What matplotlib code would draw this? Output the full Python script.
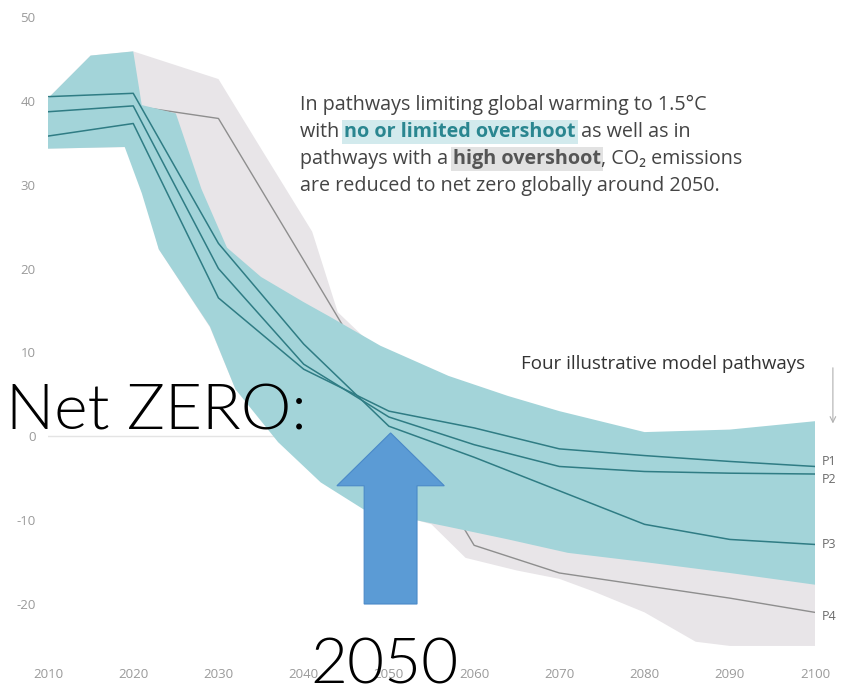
import matplotlib
matplotlib.use("Agg")
import matplotlib.pyplot as plt
from matplotlib.patches import FancyArrow

plt.rcParams['axes.unicode_minus'] = False
plt.rcParams['font.family'] = ['Open Sans', 'DejaVu Sans']

# pathway lines (GtCO2/yr)
years = [2010, 2020, 2030, 2040, 2050, 2060, 2070, 2080, 2090, 2100]
p1 = [35.8, 37.3, 16.5, 8.0, 3.0, 1.0, -1.5, -2.3, -3.0, -3.6]
p2 = [38.7, 39.4, 20.0, 8.6, 2.3, -1.0, -3.6, -4.2, -4.4, -4.5]
p3 = [40.5, 40.9, 23.0, 11.0, 1.2, -2.5, -6.5, -10.5, -12.3, -12.9]
p4 = [38.7, 39.4, 37.9, 21.0, 4.0, -13.0, -16.3, -17.8, -19.3, -21.0]

# no or limited overshoot range
low_up_years = [2010, 2015, 2020, 2021, 2025, 2028, 2031, 2035, 2040, 2043, 2049,
                2057, 2064, 2070, 2080, 2090, 2100]
low_up = [40.3, 45.4, 45.9, 39.5, 38.5, 29.5, 22.5, 19.0, 16.0, 14.3, 10.8,
          7.2, 4.8, 3.0, 0.5, 0.8, 1.8]
low_dn_years = [2010, 2019, 2021, 2023, 2029, 2032, 2037, 2042, 2047, 2057,
                2064, 2071, 2080, 2090, 2100]
low_dn = [34.3, 34.5, 29.0, 22.3, 13.1, 5.6, -0.7, -5.5, -8.7, -10.8,
          -12.3, -13.9, -15.0, -16.3, -17.7]

# high overshoot range
high_up_years = [2010, 2015, 2020, 2030, 2035, 2041, 2044, 2050, 2060, 2070,
                 2080, 2090, 2100]
high_up = [40.3, 45.4, 45.9, 42.6, 34.3, 24.4, 14.8, 9.0, 4.0, 1.0,
           -1.0, -2.0, -3.0]
high_dn_years = [2010, 2020, 2023, 2029, 2032, 2037, 2042, 2048, 2055, 2059,
                 2065, 2070, 2074, 2080, 2086, 2090, 2100]
high_dn = [34.3, 34.5, 22.3, 13.0, 5.6, 0.0, -5.0, -8.5, -10.5, -14.5,
           -16.0, -17.0, -18.5, -21.0, -24.5, -25.0, -25.0]

xticks = list(range(2010, 2101, 10))
yticks = list(range(-20, 51, 10))

W, H = 842, 688
fig = plt.figure(figsize=(W / 100, H / 100), dpi=100)
fig.patch.set_facecolor('white')
ax = fig.add_axes([48 / W, (H - 662.7) / H, (815 - 48) / W, (662.7 - 17) / H])
ax.set_xlim(2010, 2100)
ax.set_ylim(-27, 50)
for s in ax.spines.values():
    s.set_visible(False)

ax.axhline(0, color='#e4e4e4', lw=1, zorder=0)

# grey band (high overshoot)
ax.fill(high_up_years + high_dn_years[::-1], high_up + high_dn[::-1],
        color='#e8e5e8', lw=0, zorder=1)
ax.plot(years, p4, color='#8e8e8e', lw=1.0, zorder=2)

# teal band (no or limited overshoot)
ax.fill(low_up_years + low_dn_years[::-1], low_up + low_dn[::-1],
        color='#a3d4d9', lw=0, zorder=3)

for p in (p1, p2, p3):
    ax.plot(years, p, color='#2f7c84', lw=1.1, zorder=4)

ax.set_xticks(xticks)
ax.set_yticks(yticks)
ax.tick_params(length=0, labelsize=9.5, labelcolor='#9a9a9a')
ax.tick_params(axis='y', pad=9)
ax.tick_params(axis='x', pad=4)

# pathway labels
for name, val in zip(['P1', 'P2', 'P3', 'P4'], [-3.0, -5.2, -12.9, -21.5]):
    ax.text(2100.8, val, name, fontsize=9, color='#6a6a6a', va='center',
            ha='left', clip_on=False)

ax.text(2098.8, 8.6, 'Four illustrative model pathways', fontsize=13.5,
        color='#333333', ha='right', va='center')
ax.annotate('', xy=(2102.1, 1.2), xytext=(2102.1, 8.5),
            arrowprops=dict(arrowstyle='->', color='#b0b0b0', lw=0.8),
            annotation_clip=False)

# annotation paragraph with highlights
fig.canvas.draw()
renderer = fig.canvas.get_renderer()
fs = 14.2
plain = dict(fontsize=fs, color='#444444')
lines = [
    [('In pathways limiting global warming to 1.5°C', plain, None)],
    [('with ', plain, None),
     ('no or limited overshoot', dict(fontsize=fs, color='#2a8690', weight='bold'), '#d2eaed'),
     (' as well as in', plain, None)],
    [('pathways with a ', plain, None),
     ('high overshoot', dict(fontsize=fs, color='#555555', weight='bold'), '#e2e2e2'),
     (', CO₂ emissions', plain, None)],
    [('are reduced to net zero globally around 2050.', plain, None)],
]
base_y = 110
for i, parts in enumerate(lines):
    x = 300
    y = base_y + i * 27
    for txt, style, bg in parts:
        kw = dict(style)
        if bg:
            kw['bbox'] = dict(boxstyle='square,pad=0.1', fc=bg, ec='none')
        t = fig.text(x / W, 1 - y / H, txt, va='baseline', ha='left', **kw)
        x += t.get_window_extent(renderer).width

# big overlay text and arrow
big = dict(family=['Lato', 'DejaVu Sans'], weight=300, fontsize=46, color='black')
fig.text(6 / W, 1 - 429 / H, 'Net ZERO:', va='baseline', ha='left', **big)
fig.text(385 / W, 1 - 683 / H, '2050', va='baseline', ha='center', **big)

arrow = FancyArrow(2050.2, -20.0, 0, 20.4, width=6.2, head_width=12.6,
                   head_length=6.3, length_includes_head=True,
                   fc='#5b9bd5', ec='#4a89c8', lw=0.8, zorder=6)
ax.add_patch(arrow)

fig.savefig('out.png', dpi=100)
